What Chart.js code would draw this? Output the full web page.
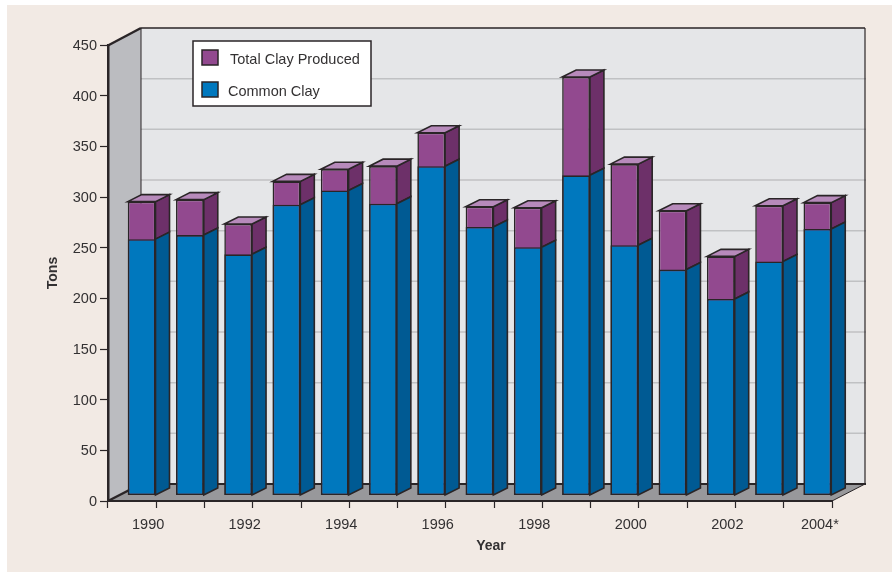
<!DOCTYPE html>
<html>
<head>
<meta charset="utf-8">
<title>Clay production</title>
<style>
    html, body { margin: 0; padding: 0; background: #fff; }
    canvas { display: block; }
</style>
<script src="https://cdn.jsdelivr.net/npm/chart.js@4"></script>
</head>
<body>
<canvas id="clayChart" width="892" height="572"></canvas>
<script>
const years = ['1990', '1991', '1992', '1993', '1994', '1995', '1996', '1997', '1998', '1999', '2000', '2001', '2002', '2003', '2004*'];
const commonClay = [253, 257, 238, 287, 301, 288, 325, 265, 245, 316, 247, 223, 194, 231, 263];
const totalClay = [290, 292, 268, 310, 322, 325, 358, 285, 284, 413, 327, 281, 236, 286, 289];

const ink = '#2a2527';
const textColor = '#333132';
const fontFamily = '"Liberation Sans", Arial, sans-serif';

// fake 3d offsets, px
const wallDx = 33, wallDy = -17;
const barShiftX = 9.5, barShiftY = -5.5;
const barDx = 14, barDy = -7;

function poly(ctx, pts, fill, stroke, lineWidth) {
    ctx.beginPath();
    pts.forEach((p, i) => i ? ctx.lineTo(p[0], p[1]) : ctx.moveTo(p[0], p[1]));
    ctx.closePath();
    if (fill) {
        ctx.fillStyle = fill;
        ctx.fill();
    }
    if (stroke) {
        ctx.strokeStyle = stroke;
        ctx.lineWidth = lineWidth;
        ctx.lineJoin = 'miter';
        ctx.stroke();
    }
}

function line(ctx, x1, y1, x2, y2, color, lineWidth) {
    ctx.beginPath();
    ctx.moveTo(x1, y1);
    ctx.lineTo(x2, y2);
    ctx.strokeStyle = color;
    ctx.lineWidth = lineWidth;
    ctx.stroke();
}

// page background, walls and floor
const roomPlugin = {
    id: 'room',
    beforeDraw(chart) {
        const { ctx, chartArea: a, scales } = chart;
        const l = a.left, r = a.right, t = a.top, b = a.bottom;
        ctx.save();
        ctx.fillStyle = '#f2eae4';
        ctx.fillRect(7, 5, 885, 567);

        poly(ctx, [[l + wallDx, t + wallDy], [r + wallDx, t + wallDy], [r + wallDx, b + wallDy], [l + wallDx, b + wallDy]], '#e5e6e8');
        poly(ctx, [[l, t], [l + wallDx, t + wallDy], [l + wallDx, b + wallDy], [l, b]], '#bbbcc0');
        poly(ctx, [[l, b], [l + wallDx, b + wallDy], [r + wallDx, b + wallDy], [r, b]], '#98989b');

        scales.y.ticks.forEach(tick => {
            if (tick.value === 0 || tick.value === 450) return;
            const y = scales.y.getPixelForValue(tick.value) + wallDy;
            line(ctx, l + wallDx, y, r + wallDx + 1, y, '#c0c1c3', 1.5);
        });

        line(ctx, l + wallDx, t + wallDy, l + wallDx, b + wallDy, ink, 1);
        line(ctx, r + wallDx, t + wallDy, r + wallDx, b + wallDy, ink, 1.2);
        line(ctx, l + wallDx, t + wallDy, r + wallDx, t + wallDy, ink, 1.5);
        line(ctx, l + wallDx, b + wallDy, r + wallDx + 1, b + wallDy, ink, 2);
        line(ctx, l - 1, t + 1, l + wallDx, t + wallDy, ink, 2.5);
        line(ctx, l, b, l + wallDx, b + wallDy, ink, 2.5);
        line(ctx, r, b, r + wallDx, b + wallDy, ink, 1);
        ctx.restore();
    }
};

// moves the bars off the front plane and adds side and top faces
const depthPlugin = {
    id: 'depth',
    beforeDatasetsDraw(chart) {
        chart.ctx.save();
        chart.ctx.translate(barShiftX, barShiftY);
    },
    afterDatasetsDraw(chart) {
        const ctx = chart.ctx;
        const totalBars = chart.getDatasetMeta(1).data;
        const commonBars = chart.getDatasetMeta(0).data;
        totalBars.forEach((bar, i) => {
            const left = bar.x - bar.width / 2, right = bar.x + bar.width / 2;
            const base = bar.base, top = bar.y, mid = commonBars[i].y;
            poly(ctx, [[right, top], [right + barDx, top + barDy], [right + barDx, mid + barDy], [right, mid]], '#6d3069', ink, 1.6);
            poly(ctx, [[right, mid], [right + barDx, mid + barDy], [right + barDx, base + barDy], [right, base]], '#005a93', ink, 1.6);
            poly(ctx, [[left, top], [left + barDx, top + barDy], [right + barDx, top + barDy], [right, top]], '#b78abb', ink, 1.6);
        });
        ctx.restore();
    }
};

const legendPlugin = {
    id: 'boxLegend',
    afterDraw(chart) {
        const ctx = chart.ctx;
        const [common, total] = chart.data.datasets;
        ctx.save();
        ctx.fillStyle = '#fff';
        ctx.fillRect(193, 41, 178, 65);
        ctx.strokeStyle = ink;
        ctx.lineWidth = 1.5;
        ctx.strokeRect(193, 41, 178, 65);

        ctx.fillStyle = total.backgroundColor;
        ctx.fillRect(202, 50, 16, 15);
        ctx.strokeRect(202, 50, 16, 15);
        ctx.fillStyle = common.backgroundColor;
        ctx.fillRect(202, 82, 16, 15);
        ctx.strokeRect(202, 82, 16, 15);

        ctx.font = '14.5px ' + fontFamily;
        ctx.fillStyle = textColor;
        ctx.textBaseline = 'middle';
        ctx.fillText(total.label, 230, 60);
        ctx.fillText(common.label, 228, 92);

        // Year sits right of the axis centre in the original
        ctx.font = 'bold 14px ' + fontFamily;
        ctx.textAlign = 'center';
        ctx.fillText('Year', 491, 546);
        ctx.restore();
    }
};

const ctx = document.getElementById('clayChart').getContext('2d');
const clayChart = new Chart(ctx, {
    type: 'bar',
    data: {
        labels: years,
        datasets: [{
            label: 'Common Clay',
            data: commonClay,
            backgroundColor: '#0078be',
            borderColor: ink,
            borderWidth: 1.6,
            borderSkipped: false,
            grouped: false,
            clip: false
        }, {
            label: 'Total Clay Produced',
            data: totalClay,
            backgroundColor: '#92498f',
            borderColor: ink,
            borderWidth: 1.6,
            borderSkipped: false,
            grouped: false,
            clip: false
        }]
    },
    options: {
        responsive: false,
        animation: false,
        devicePixelRatio: 1,
        layout: { padding: { top: 45, right: 60, bottom: 0, left: 0 } },
        datasets: { bar: { categoryPercentage: 1, barPercentage: 0.575 } },
        font: { family: fontFamily },
        plugins: {
            legend: { display: false },
            tooltip: { enabled: false }
        },
        scales: {
            x: {
                afterFit: scale => { scale.height = 71; },
                grid: { offset: true, drawOnChartArea: false, tickLength: 7, tickColor: ink, tickWidth: 1.2 },
                border: { display: true, color: ink, width: 2 },
                ticks: {
                    autoSkip: false,
                    maxRotation: 0,
                    labelOffset: 16,
                    padding: 8,
                    color: textColor,
                    font: { family: fontFamily, size: 14.5 },
                    callback(value, index) {
                        if (index % 2) return '';
                        const label = this.getLabelForValue(value);
                        return index === years.length - 1 ? label + '  ' : label;
                    }
                }
            },
            y: {
                min: 0,
                max: 450,
                afterFit: scale => { scale.width = 108; },
                grid: { drawOnChartArea: false, tickLength: 8, tickColor: ink, tickWidth: 1.2 },
                border: { display: true, color: ink, width: 2.5 },
                ticks: {
                    stepSize: 50,
                    padding: 3,
                    labelOffset: 1,
                    color: textColor,
                    font: { family: fontFamily, size: 14.5 }
                },
                title: {
                    display: true,
                    text: 'Tons',
                    color: textColor,
                    font: { family: fontFamily, size: 14, weight: 'bold' },
                    padding: { top: 45, bottom: 0 }
                }
            }
        }
    },
    plugins: [roomPlugin, depthPlugin, legendPlugin]
});
</script>
</body>
</html>
